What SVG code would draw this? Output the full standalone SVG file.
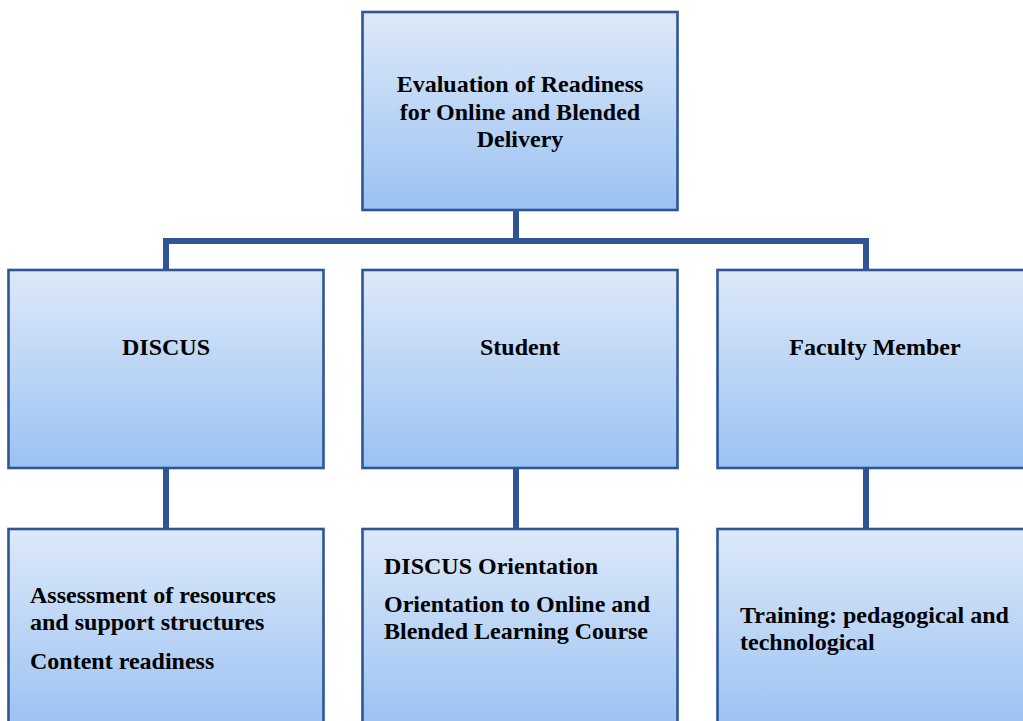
<svg xmlns="http://www.w3.org/2000/svg" width="1023" height="721" viewBox="0 0 1023 721">
<defs>
<linearGradient id="g" x1="0" y1="0" x2="0" y2="1">
<stop offset="0" stop-color="#dde9f9"/>
<stop offset="1" stop-color="#9bc2f2"/>
</linearGradient>
<style>
.box{fill:url(#g);stroke:#2f5597;stroke-width:2.6}
.con{stroke:#2f5597;stroke-width:6;fill:none}
text{font-family:"Liberation Serif","Times New Roman",serif;font-weight:bold;font-size:24px;fill:#000}
.c{text-anchor:middle}
</style>
</defs>
<rect width="1023" height="721" fill="#fff"/>
<g id="connectors">
<path class="con" d="M516,210 V241 M166,271 V241 H866 V271"/>
<line class="con" x1="166" y1="468" x2="166" y2="529"/>
<line class="con" x1="516" y1="468" x2="516" y2="529"/>
<line class="con" x1="866" y1="468" x2="866" y2="529"/>
</g>
<g id="top">
<rect class="box" x="362.5" y="12" width="315" height="198"/>
<text class="c" x="520" y="92">Evaluation of Readiness</text>
<text class="c" x="520" y="119.5">for Online and Blended</text>
<text class="c" x="520" y="147">Delivery</text>
</g>
<g id="discus">
<rect class="box" x="8.5" y="270" width="315" height="198"/>
<text class="c" x="166" y="355">DISCUS</text>
</g>
<g id="student">
<rect class="box" x="362.5" y="270" width="315" height="198"/>
<text class="c" x="520" y="355">Student</text>
</g>
<g id="faculty">
<rect class="box" x="717.5" y="270" width="315" height="198"/>
<text class="c" x="875" y="355">Faculty Member</text>
</g>
<g id="discus-detail">
<rect class="box" x="8.5" y="529" width="315" height="198"/>
<text x="30" y="603">Assessment of resources</text>
<text x="30" y="630">and support structures</text>
<text x="30" y="669">Content readiness</text>
</g>
<g id="student-detail">
<rect class="box" x="362.5" y="529" width="315" height="198"/>
<text x="384" y="574">DISCUS Orientation</text>
<text x="384" y="612">Orientation to Online and</text>
<text x="384" y="639">Blended Learning Course</text>
</g>
<g id="faculty-detail">
<rect class="box" x="717.5" y="529" width="315" height="198"/>
<text x="740" y="623">Training: pedagogical and</text>
<text x="740" y="650">technological</text>
</g>
</svg>
